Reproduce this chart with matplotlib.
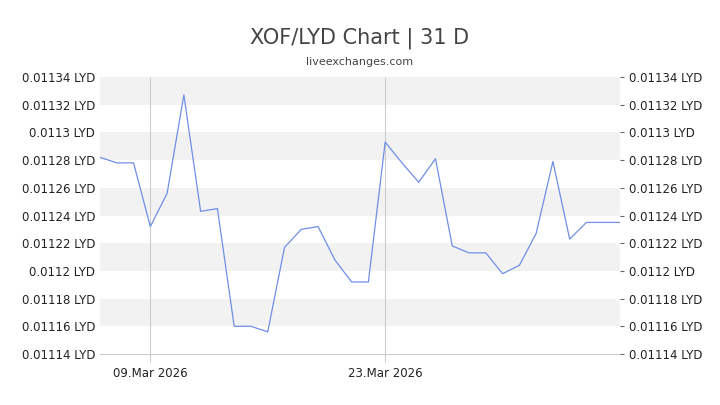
import matplotlib
matplotlib.use("Agg")
import matplotlib.pyplot as plt

days = list(range(32))  # day 0 = 06.Mar 2026
values = [0.011282,0.011278,0.011278,0.011232,0.011256,0.011327,0.011243,0.011245,
          0.01116,0.01116,0.011156,0.011217,0.01123,0.011232,0.011208,0.011192,
          0.011192,0.011293,0.011278,0.011264,0.011281,0.011218,0.011213,0.011213,
          0.011198,0.011204,0.011227,0.011279,0.011223,0.011235,0.011235,0.011235]
yticks = [0.01114,0.01116,0.01118,0.0112,0.01122,0.01124,0.01126,0.01128,0.0113,0.01132,0.01134]
xtick_pos = [3, 17]
xtick_labels = ["09.Mar 2026", "23.Mar 2026"]

fig = plt.figure(figsize=(7.2,4.05), dpi=100)
ax = fig.add_axes([100/720, 1-354/405, 520/720, 277/405])
for lo, hi in [(0.01116,0.01118),(0.0112,0.01122),(0.01124,0.01126),(0.01128,0.0113),(0.01132,0.01134)]:
    ax.axhspan(lo, hi, color='#f2f2f2', lw=0)
for p in xtick_pos:
    ax.axvline(p, color='#cccccc', lw=0.8)
ax.plot(days, values, color='#6f8fe8', lw=0.9)
ax.set_xlim(0, 31)
ax.set_ylim(0.01114, 0.01134)
ax.set_yticks(yticks)
lab = [f"{v:g} LYD" for v in yticks]
ax.set_yticklabels(lab, fontsize=8.5, color='#222222')
ax.set_xticks(xtick_pos)
ax.set_xticklabels(xtick_labels, fontsize=8.5, color='#222222')
ax.tick_params(axis='x', length=6, color='#cccccc')
ax.tick_params(axis='y', length=0)
for s in ['top','right','left']:
    ax.spines[s].set_visible(False)
ax.spines['bottom'].set_color('#cccccc')
ax2 = ax.twinx()
ax2.set_ylim(ax.get_ylim())
ax2.set_yticks(yticks)
ax2.set_yticklabels(lab, fontsize=8.5, color='#222222')
ax2.tick_params(axis='y', length=3, color='#666666')
for s in ax2.spines.values():
    s.set_visible(False)
fig.text(0.5, 1-38/405, "XOF/LYD Chart | 31 D", ha='center', va='center', fontsize=15, color='#444444')
fig.text(0.5, 1-62/405, "liveexchanges.com", ha='center', va='center', fontsize=8, color='#444444')
fig.savefig("out.png", dpi=100)
